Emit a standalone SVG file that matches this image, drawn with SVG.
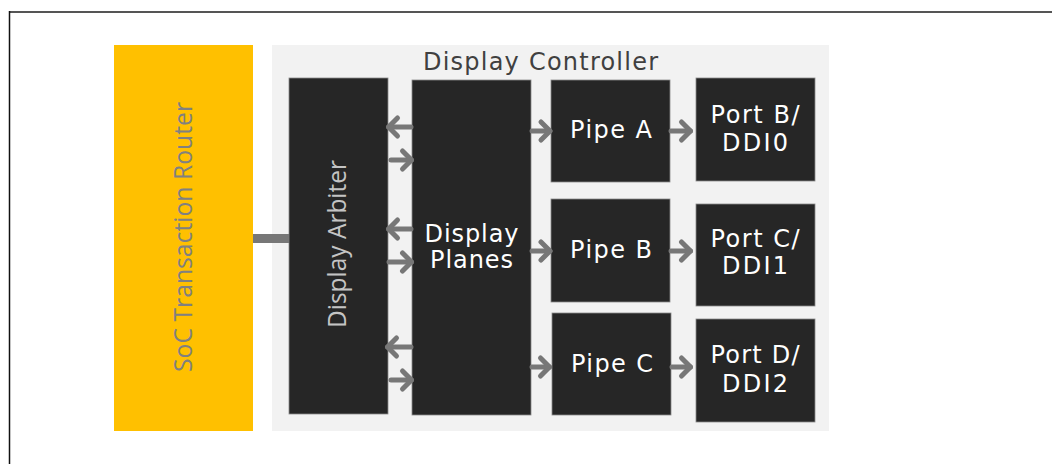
<svg xmlns="http://www.w3.org/2000/svg" width="1052" height="464" viewBox="0 0 1052 464">
<style>
.blk{fill:#262626;stroke:#8a8a8a;stroke-width:0.8}
.lbl{font-family:"DejaVu Sans",Verdana,sans-serif;font-size:24px;fill:#ffffff;text-anchor:middle}
.rot{font-family:"Open Sans","Liberation Sans",sans-serif;font-size:25px;text-anchor:middle}
.conn{stroke:#777777;stroke-width:5;fill:none;stroke-linecap:round}
</style>
<defs>
<marker id="chev" viewBox="-16 -14 20 28" refX="0" refY="0" markerWidth="20" markerHeight="28" markerUnits="userSpaceOnUse" orient="auto" overflow="visible">
<path d="M-9,-9 L0,0 L-9,9" fill="none" stroke="#777777" stroke-width="5" stroke-linecap="round" stroke-linejoin="round"/>
</marker>
</defs>
<rect x="0" y="0" width="1052" height="464" fill="#ffffff"/>
<line x1="9" y1="12" x2="1052" y2="12" stroke="#555555" stroke-width="2"/>
<line x1="9.5" y1="11" x2="9.5" y2="464" stroke="#111111" stroke-width="1.5"/>

<g id="soc-router">
<rect x="114" y="45" width="139" height="386" fill="#FFC000"/>
<text class="rot" transform="translate(192,237) rotate(-90)" fill="#808080" textLength="270" lengthAdjust="spacingAndGlyphs">SoC Transaction Router</text>
</g>

<g id="display-controller">
<rect x="272" y="45" width="557" height="386" fill="#F2F2F2"/>
<text x="540.5" y="70" text-anchor="middle" font-family="'DejaVu Sans',Verdana,sans-serif" font-size="24" fill="#404040" textLength="235" lengthAdjust="spacing">Display Controller</text>
</g>

<g id="display-arbiter">
<rect class="blk" x="289" y="78" width="99" height="336"/>
<text class="rot" transform="translate(346,244) rotate(-90)" fill="#c4c4c4" textLength="168" lengthAdjust="spacingAndGlyphs">Display Arbiter</text>
</g>

<g id="display-planes">
<rect class="blk" x="412" y="80" width="119" height="335"/>
<text class="lbl" x="471.5" y="242" textLength="94" lengthAdjust="spacing">Display</text>
<text class="lbl" x="471.5" y="268" textLength="83" lengthAdjust="spacing">Planes</text>
</g>

<g id="pipe-a">
<rect class="blk" x="551" y="80" width="119" height="102"/>
<text class="lbl" x="611" y="138" textLength="82" lengthAdjust="spacing">Pipe A</text>
</g>
<g id="pipe-b">
<rect class="blk" x="551" y="199" width="119" height="103"/>
<text class="lbl" x="611" y="258" textLength="82" lengthAdjust="spacing">Pipe B</text>
</g>
<g id="pipe-c">
<rect class="blk" x="552" y="313" width="119" height="102"/>
<text class="lbl" x="612" y="372" textLength="82" lengthAdjust="spacing">Pipe C</text>
</g>

<g id="port-b">
<rect class="blk" x="696" y="78" width="119" height="103"/>
<text class="lbl" x="755" y="123" textLength="89" lengthAdjust="spacing">Port B/</text>
<text class="lbl" x="755" y="151" textLength="66" lengthAdjust="spacing">DDI0</text>
</g>
<g id="port-c">
<rect class="blk" x="696" y="204" width="119" height="102"/>
<text class="lbl" x="755" y="247" textLength="89" lengthAdjust="spacing">Port C/</text>
<text class="lbl" x="755" y="274" textLength="66" lengthAdjust="spacing">DDI1</text>
</g>
<g id="port-d">
<rect class="blk" x="696" y="319" width="119" height="103"/>
<text class="lbl" x="755" y="363" textLength="89" lengthAdjust="spacing">Port D/</text>
<text class="lbl" x="755" y="392" textLength="66" lengthAdjust="spacing">DDI2</text>
</g>

<g id="connectors">
<line x1="253" y1="238.5" x2="289" y2="238.5" stroke="#777777" stroke-width="9"/>
<line class="conn" x1="411" y1="127" x2="388.5" y2="127" marker-end="url(#chev)"/>
<line class="conn" x1="391" y1="160" x2="411.5" y2="160" marker-end="url(#chev)"/>
<line class="conn" x1="411" y1="229" x2="388.5" y2="229" marker-end="url(#chev)"/>
<line class="conn" x1="389" y1="262" x2="411.5" y2="262" marker-end="url(#chev)"/>
<line class="conn" x1="411" y1="347" x2="387.5" y2="347" marker-end="url(#chev)"/>
<line class="conn" x1="391" y1="380" x2="411.5" y2="380" marker-end="url(#chev)"/>
<line class="conn" x1="532" y1="131" x2="550" y2="131" marker-end="url(#chev)"/>
<line class="conn" x1="532" y1="251" x2="550" y2="251" marker-end="url(#chev)"/>
<line class="conn" x1="532" y1="367" x2="549.5" y2="367" marker-end="url(#chev)"/>
<line class="conn" x1="671" y1="131" x2="690.5" y2="131" marker-end="url(#chev)"/>
<line class="conn" x1="671" y1="251" x2="690.5" y2="251" marker-end="url(#chev)"/>
<line class="conn" x1="672" y1="367" x2="690.5" y2="367" marker-end="url(#chev)"/>
</g>
</svg>
